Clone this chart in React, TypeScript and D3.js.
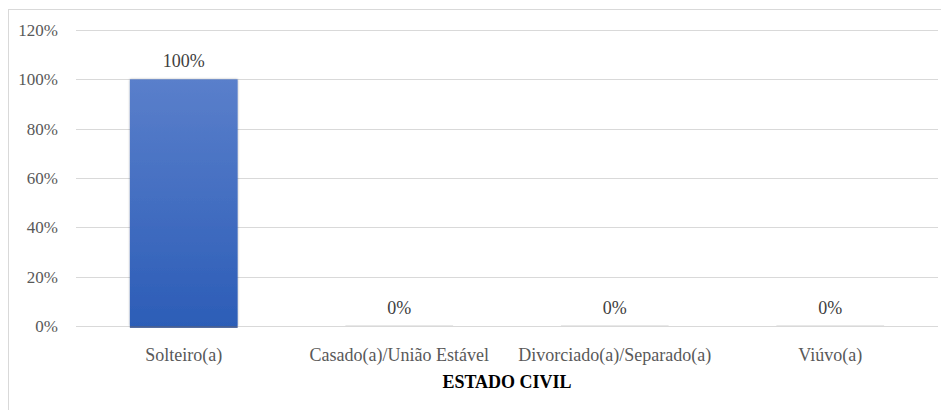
import React from "react";
import * as d3 from "d3";

const categories = ["Solteiro(a)", "Casado(a)/União Estável", "Divorciado(a)/Separado(a)", "Viúvo(a)"];
const values = [1.0, 0, 0, 0];
const yTicks = [0, 0.2, 0.4, 0.6, 0.8, 1.0, 1.2];
const axisTitle = "ESTADO CIVIL";

const W = 941;
const H = 410;
const margin = { left: 76, right: 3, top: 30, bottom: 84 };

export default function App() {
  const x = d3
    .scaleBand<string>()
    .domain(categories)
    .range([margin.left, W - margin.right])
    .paddingInner(0.5)
    .paddingOuter(0.25);
  const y = d3.scaleLinear().domain([0, 1.2]).range([H - margin.bottom, margin.top]);
  const fmt = d3.format(".0%");
  const tStyle: React.CSSProperties = { fontFamily: "'Liberation Serif', 'Times New Roman', 'DejaVu Serif', serif" };
  const textColor = "#595959";

  return (
    <svg
      width={W}
      height={H}
      style={{ position: "absolute", left: 0, top: 0, display: "block" }}
    >
      <defs>
        <linearGradient id="barGrad" x1="0" y1="0" x2="0" y2="1">
          <stop offset="0" stopColor="#5A7FCB" />
          <stop offset="1" stopColor="#2C5DB7" />
        </linearGradient>
        <filter id="shadow" x="-10%" y="-10%" width="120%" height="120%">
          <feDropShadow dx="0" dy="0" stdDeviation="1.2" floodColor="#000" floodOpacity="0.35" />
        </filter>
      </defs>
      <rect x={8.5} y={9.5} width={W - 8} height={H - 8} fill="#fff" stroke="#D9D9D9" />
      {yTicks.map((t) => (
        <g key={t}>
          <line
            x1={margin.left}
            x2={W - margin.right}
            y1={Math.round(y(t)) + 0.5}
            y2={Math.round(y(t)) + 0.5}
            stroke="#D9D9D9"
            strokeWidth={1}
          />
          <text
            x={58}
            y={y(t)}
            dy="0.35em"
            textAnchor="end"
            fontSize={17}
            fill={textColor}
            style={tStyle}
          >
            {fmt(t)}
          </text>
        </g>
      ))}
      {categories.map((c, i) => {
        const v = values[i];
        const bx = x(c)!;
        const bw = x.bandwidth();
        const top = y(v);
        const h = Math.max(0, y(0) - top);
        return (
          <g key={c}>
            {h > 0 ? (
              <>
                <rect x={bx} y={top} width={bw} height={h} fill="url(#barGrad)" filter="url(#shadow)" />
                <line x1={bx} x2={bx + bw} y1={y(0) + 1} y2={y(0) + 1} stroke="#1F3F85" strokeWidth={1.5} />
              </>
            ) : (
              <rect x={bx} y={y(0) - 1} width={bw} height={1} fill="#E8E8E8" />
            )}
            <text
              x={bx + bw / 2}
              y={top - 12}
              textAnchor="middle"
              fontSize={18}
              fill="#404040"
              style={tStyle}
            >
              {fmt(v)}
            </text>
            <text
              x={bx + bw / 2}
              y={y(0) + 35}
              textAnchor="middle"
              fontSize={18}
              fill={textColor}
              style={tStyle}
            >
              {c}
            </text>
          </g>
        );
      })}
      <text
        x={(margin.left + W - margin.right) / 2}
        y={388}
        textAnchor="middle"
        fontSize={18}
        fontWeight="bold"
        fill="#000"
        style={tStyle}
      >
        {axisTitle}
      </text>
    </svg>
  );
}
